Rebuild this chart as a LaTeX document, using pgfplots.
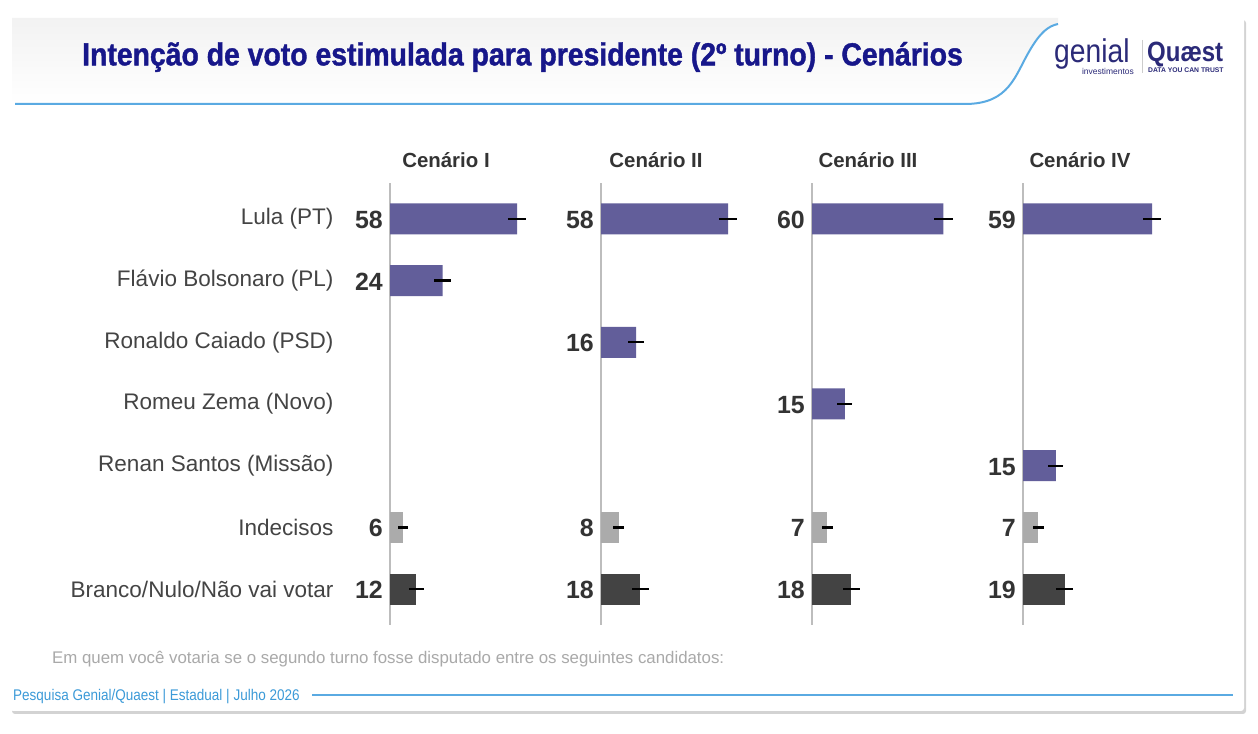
\documentclass[border=0pt]{standalone}
\usepackage{pgfplots}
\pgfplotsset{compat=1.18}
\usepackage{fontspec}
\setmainfont{Liberation Sans}
\newfontfamily\condfont[FakeStretch=0.875]{Liberation Sans}
\newfontfamily\titlefont[FakeStretch=0.89,FakeBold=1.2]{Liberation Sans}
\newfontfamily\logofont[FakeStretch=0.86]{Liberation Sans}
\usetikzlibrary{shadows}
\definecolor{purp}{HTML}{625E9A}
\definecolor{lgray}{HTML}{ABABAB}
\definecolor{dgray}{HTML}{434343}
\definecolor{axgray}{HTML}{BDBDBD}
\definecolor{navy}{HTML}{17178A}
\definecolor{logonavy}{HTML}{2B2A78}
\definecolor{lblue}{HTML}{5AAAE2}
\definecolor{numc}{HTML}{333333}
\definecolor{labc}{HTML}{444444}
\definecolor{footg}{HTML}{A9A9A9}
\definecolor{footb}{HTML}{3B9AD8}

\pgfplotsset{
  scen/.style={
    scale only axis, width=175.2bp, height=441.6bp,
    xmin=0, xmax=80, ymin=-0.58, ymax=6.58, y dir=reverse,
    axis x line=none, axis y line*=left,
    axis line style={draw=axgray, line width=2.6bp},
    ytick=\empty, xtick=\empty, clip=false, anchor=north west,
  },
  bars/.style={xbar, bar width=31bp, bar shift=0pt, fill=#1, draw=none,
    error bars/.cd, x dir=both, x explicit,
    error bar style={line width=2.3bp, black}, error mark=none},
  nums/.style={only marks, mark=none, nodes near coords, point meta=explicit symbolic,
    every node near coord/.append style={anchor=base east, xshift=-7bp, yshift=-9.5bp,
      inner sep=0pt, text=numc, font=\fontsize{25}{28}\selectfont\bfseries}},
}

\begin{document}
\begin{tikzpicture}
\begin{scope}[x=1bp,y=1bp]
\useasboundingbox (0,0) rectangle (1258,734);
% card
\fill[white, rounded corners=3bp, drop shadow={opacity=0.35, shadow xshift=2bp, shadow yshift=-3bp}] (10,23) rectangle (1244,717);
% header shading
\shade[top color=black!5, bottom color=white] (12,716) -- (12,630) -- (965,630) .. controls (1010,630) and (1015,659) .. (1030,684) .. controls (1040,701) and (1048,708) .. (1058,710) -- (1058,716) -- cycle;
% header line
\draw[lblue, line width=2bp] (15,630) -- (965,630) .. controls (1010,630) and (1015,659) .. (1030,684) .. controls (1040,701) and (1048,708) .. (1058,710);
% title
\node[anchor=west, inner sep=0pt, text=navy, font=\titlefont\fontsize{32}{36}\selectfont\bfseries] at (82,677) {Intenção de voto estimulada para presidente (2º turno) - Cenários};
% logos
\node[anchor=base west, inner sep=0pt, text=logonavy, font=\logofont\fontsize{33}{33}\selectfont] at (1054,671) {genial};
\node[anchor=base east, inner sep=0pt, text=logonavy, font=\fontsize{8.5}{9}\selectfont] at (1134,659) {investimentos};
\draw[black!20, line width=0.8bp] (1142,694) -- (1142,661);
\node[anchor=base west, inner sep=0pt, text=logonavy, font=\logofont\fontsize{28}{28}\selectfont\bfseries] at (1147,672) {Quæst};
\node[anchor=base west, inner sep=0pt, text=logonavy, font=\fontsize{6.8}{7}\selectfont\bfseries] at (1148,661) {DATA YOU CAN TRUST};
% column headers
\foreach \cx/\nm in {446/I, 656/II, 868/III, 1080/IV}{
  \node[inner sep=0pt, text=numc, font=\fontsize{20.5}{22}\selectfont\bfseries] at (\cx,574) {Cenário \nm};
}
% footer
\node[anchor=west, inner sep=0pt, text=footg, font=\fontsize{16.9}{18}\selectfont] at (52,75) {Em quem você votaria se o segundo turno fosse disputado entre os seguintes candidatos:};
\node[anchor=west, inner sep=0pt, text=footb, font=\condfont\fontsize{15.5}{17}\selectfont] at (13,37) {Pesquisa Genial/Quaest | Estadual | Julho 2026};
\draw[lblue, line width=2bp] (312,39) -- (1233,39);
\end{scope}

% Cenario I
\begin{axis}[scen, at={(390bp,550.8bp)},
  ytick={0,1,2,3,4,5,6}, major tick length=0pt,
  yticklabels={Lula (PT), Flávio Bolsonaro (PL), Ronaldo Caiado (PSD), Romeu Zema (Novo), Renan Santos (Missão), Indecisos, Branco/Nulo/Não vai votar},
  yticklabel style={anchor=east, xshift=-53bp, text=labc, font=\fontsize{22.6}{25}\selectfont}]
\addplot[bars=purp] coordinates {(58,0) +- (4.2,0) (24,1) +- (3.9,0)};
\addplot[bars=lgray] coordinates {(6,5) +- (2.3,0)};
\addplot[bars=dgray] coordinates {(12,6) +- (3.3,0)};
\addplot[nums] coordinates {(0,0) [58] (0,1) [24] (0,5) [6] (0,6) [12]};
\end{axis}

% Cenario II
\begin{axis}[scen, at={(601bp,550.8bp)}]
\addplot[bars=purp] coordinates {(58,0) +- (4.2,0) (16,2) +- (3.5,0)};
\addplot[bars=lgray] coordinates {(8,5) +- (2.6,0)};
\addplot[bars=dgray] coordinates {(18,6) +- (3.7,0)};
\addplot[nums] coordinates {(0,0) [58] (0,2) [16] (0,5) [8] (0,6) [18]};
\end{axis}

% Cenario III
\begin{axis}[scen, at={(812bp,550.8bp)}]
\addplot[bars=purp] coordinates {(60,0) +- (4.2,0) (15,3) +- (3.4,0)};
\addplot[bars=lgray] coordinates {(7,5) +- (2.5,0)};
\addplot[bars=dgray] coordinates {(18,6) +- (3.7,0)};
\addplot[nums] coordinates {(0,0) [60] (0,3) [15] (0,5) [7] (0,6) [18]};
\end{axis}

% Cenario IV
\begin{axis}[scen, at={(1023bp,550.8bp)}]
\addplot[bars=purp] coordinates {(59,0) +- (4.2,0) (15,4) +- (3.4,0)};
\addplot[bars=lgray] coordinates {(7,5) +- (2.5,0)};
\addplot[bars=dgray] coordinates {(19,6) +- (3.8,0)};
\addplot[nums] coordinates {(0,0) [59] (0,4) [15] (0,5) [7] (0,6) [19]};
\end{axis}
\end{tikzpicture}
\end{document}
